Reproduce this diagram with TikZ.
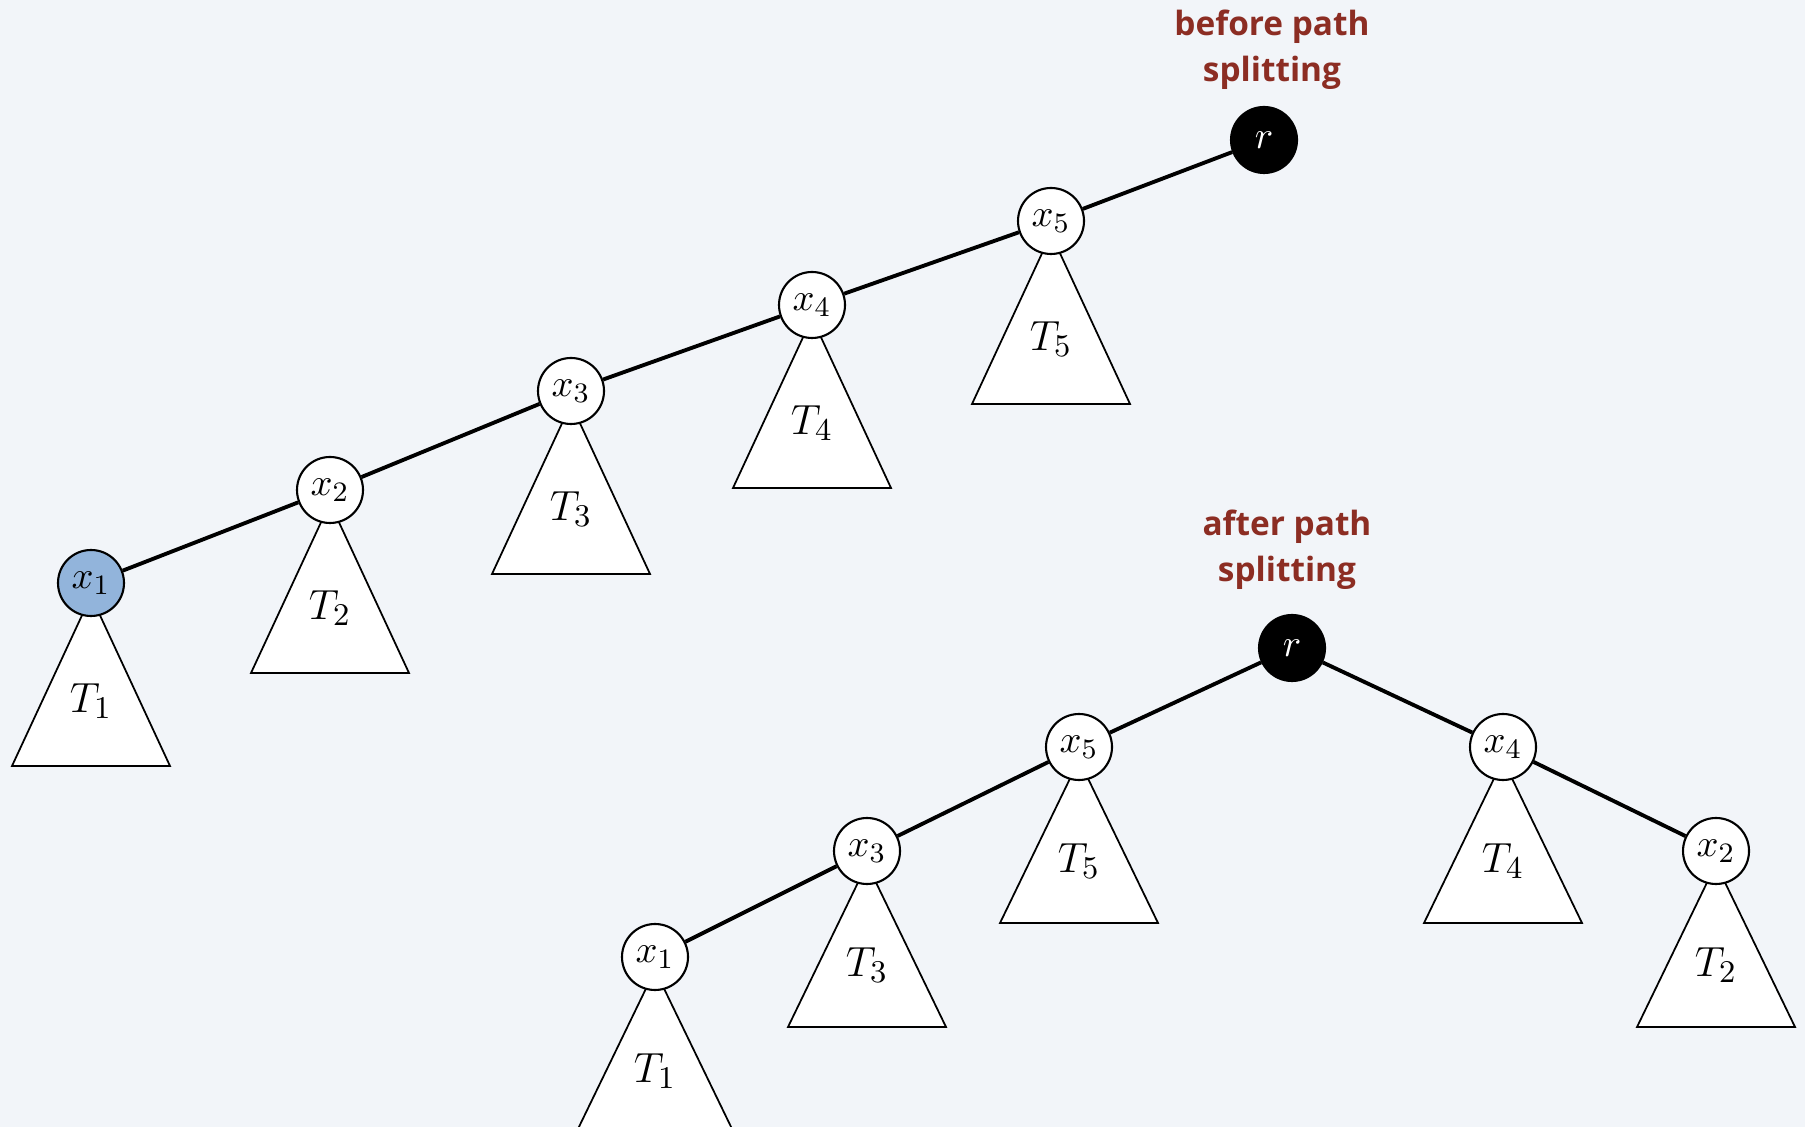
\documentclass[tikz,border=0pt]{standalone}
\usepackage{fontspec}
\newfontfamily\labelfont{Open Sans}
\usetikzlibrary{calc}
\definecolor{bgcol}{RGB}{242,245,249}
\definecolor{labelred}{RGB}{140,45,35}
\definecolor{nodeblue}{RGB}{146,180,219}
\pgfdeclarelayer{background}
\pgfsetlayers{background,main}

\begin{document}
\begin{tikzpicture}[
    key/.style={circle, draw, line width=0.6pt, fill=white, minimum size=0.66cm,
      inner sep=0pt, font=\fontsize{11}{13}\selectfont},
    rootkey/.style={key, fill=black, text=white},
    link/.style={line width=1.1pt},
    subtree/.style={draw, line width=0.5pt, fill=white},
    treename/.style={font=\fontsize{12.5}{15}\selectfont},
    caption/.style={align=center, text=labelred,
      font=\labelfont\bfseries\fontsize{9.5}{13}\selectfont}
  ]
    \useasboundingbox (0,0) rectangle (18.05,-11.27);

    % Before path splitting
    \node[caption] (before) at (12.72,-0.50) {before path\\splitting};

    % draw the path from r down to x1
    \node[rootkey] (b-r) at (12.64,-1.40) {$r$};
    \node[key] (b-x5) at (10.51,-2.21) {$x_5$};
    \node[key] (b-x4) at (8.12,-3.05) {$x_4$};
    \node[key] (b-x3) at (5.71,-3.91) {$x_3$};
    \node[key] (b-x2) at (3.30,-4.90) {$x_2$};
    \node[key, fill=nodeblue] (b-x1) at (0.91,-5.83) {$x_1$};

    \draw[link] (b-r) -- (b-x5) -- (b-x4) -- (b-x3) -- (b-x2) -- (b-x1);

    % After path splitting
    \node[caption] (after) at (12.87,-5.50) {after path\\splitting};

    % draw the split tree
    \node[rootkey] (a-r) at (12.92,-6.48) {$r$};
    \node[key] (a-x5) at (10.79,-7.47) {$x_5$};
    \node[key] (a-x3) at (8.67,-8.51) {$x_3$};
    \node[key] (a-x1) at (6.55,-9.57) {$x_1$};
    \node[key] (a-x4) at (15.03,-7.47) {$x_4$};
    \node[key] (a-x2) at (17.16,-8.51) {$x_2$};

    \draw[link] (a-r) -- (a-x5) -- (a-x3) -- (a-x1);
    \draw[link] (a-r) -- (a-x4) -- (a-x2);

    % draw the subtrees behind the keys
    \begin{pgfonlayer}{background}
      \fill[bgcol] (0,0) rectangle (18.05,-11.27);

      \draw[subtree] ($(b-x5)+(0,-0.13)$) -- ++(-0.79,-1.70) -- ++(1.58,0) -- cycle;
      \draw[subtree] ($(b-x4)+(0,-0.13)$) -- ++(-0.79,-1.70) -- ++(1.58,0) -- cycle;
      \draw[subtree] ($(b-x3)+(0,-0.13)$) -- ++(-0.79,-1.70) -- ++(1.58,0) -- cycle;
      \draw[subtree] ($(b-x2)+(0,-0.13)$) -- ++(-0.79,-1.70) -- ++(1.58,0) -- cycle;
      \draw[subtree] ($(b-x1)+(0,-0.13)$) -- ++(-0.79,-1.70) -- ++(1.58,0) -- cycle;

      \draw[subtree] ($(a-x5)+(0,-0.13)$) -- ++(-0.79,-1.63) -- ++(1.58,0) -- cycle;
      \draw[subtree] ($(a-x3)+(0,-0.13)$) -- ++(-0.79,-1.63) -- ++(1.58,0) -- cycle;
      \draw[subtree] ($(a-x1)+(0,-0.13)$) -- ++(-0.79,-1.63) -- ++(1.58,0) -- cycle;
      \draw[subtree] ($(a-x4)+(0,-0.13)$) -- ++(-0.79,-1.63) -- ++(1.58,0) -- cycle;
      \draw[subtree] ($(a-x2)+(0,-0.13)$) -- ++(-0.79,-1.63) -- ++(1.58,0) -- cycle;
    \end{pgfonlayer}

    % draw the subtree labels
    \node[treename] (b-T5) at ($(b-x5)+(0,-1.18)$) {$T_5$};
    \node[treename] (b-T4) at ($(b-x4)+(0,-1.18)$) {$T_4$};
    \node[treename] (b-T3) at ($(b-x3)+(0,-1.18)$) {$T_3$};
    \node[treename] (b-T2) at ($(b-x2)+(0,-1.18)$) {$T_2$};
    \node[treename] (b-T1) at ($(b-x1)+(0,-1.18)$) {$T_1$};

    \node[treename] (a-T5) at ($(a-x5)+(0,-1.14)$) {$T_5$};
    \node[treename] (a-T3) at ($(a-x3)+(0,-1.14)$) {$T_3$};
    \node[treename] (a-T1) at ($(a-x1)+(0,-1.14)$) {$T_1$};
    \node[treename] (a-T4) at ($(a-x4)+(0,-1.14)$) {$T_4$};
    \node[treename] (a-T2) at ($(a-x2)+(0,-1.14)$) {$T_2$};

\end{tikzpicture}
\end{document}
